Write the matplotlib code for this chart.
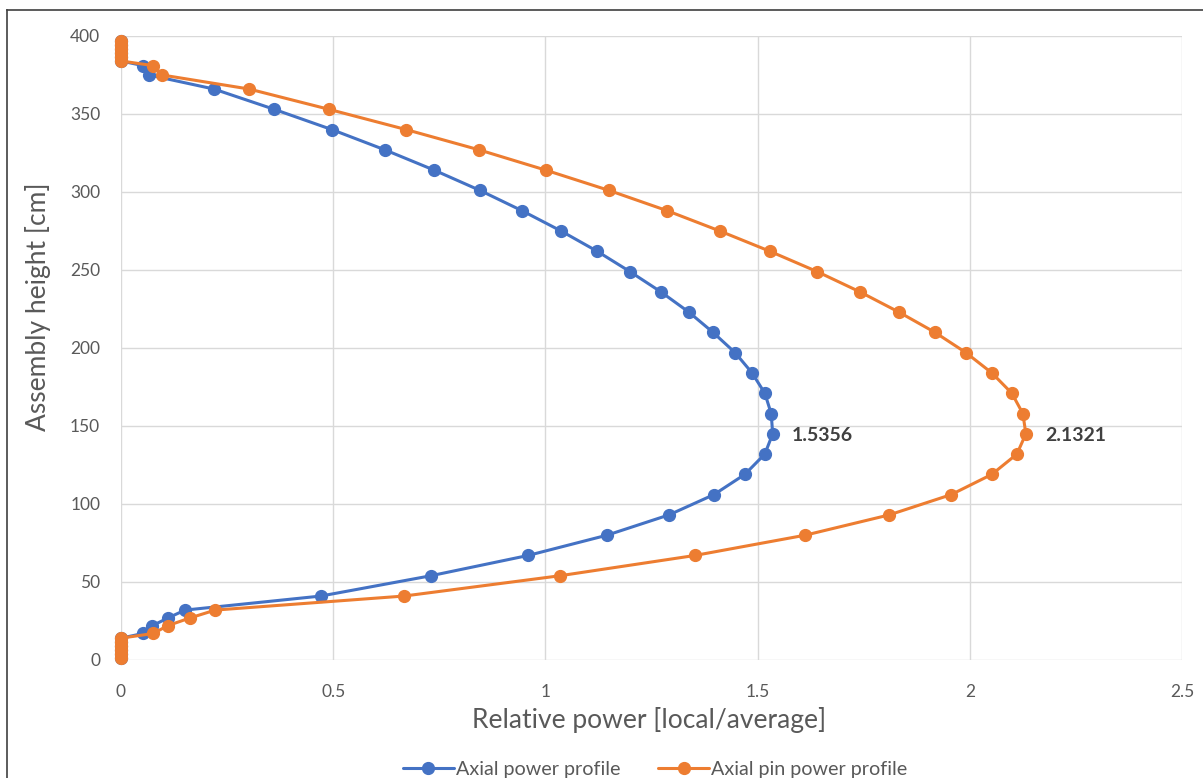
import matplotlib
matplotlib.use("Agg")
import matplotlib.pyplot as plt
from matplotlib.lines import Line2D

plt.rcParams["font.family"] = ["Lato", "DejaVu Sans"]

AZUL = "#4472C4"
NARANJA = "#ED7D31"
GRIS = "#595959"

# alturas [cm] de los puntos (zonas sin potencia abajo y arriba)
altura_abajo = [1.5, 4, 6.5, 9, 11.5, 14]
altura = [17, 22, 27, 32, 41, 54, 67, 80, 93, 106, 119, 132, 145, 158, 171, 184,
          197, 210, 223, 236, 249, 262, 275, 288, 301, 314, 327, 340, 353, 366, 375, 381]
altura_arriba = [384, 386.5, 389, 391.5, 394, 396.5]

perfil_axial = [0.052, 0.074, 0.111, 0.151, 0.471, 0.730, 0.959, 1.145, 1.291, 1.397,
                1.470, 1.517, 1.5356, 1.532, 1.517, 1.487, 1.447, 1.395, 1.338, 1.272,
                1.199, 1.122, 1.037, 0.945, 0.846, 0.738, 0.622, 0.497, 0.361, 0.219,
                0.066, 0.052]
perfil_pin = [0.076, 0.110, 0.163, 0.222, 0.667, 1.034, 1.352, 1.612, 1.810, 1.956,
              2.052, 2.111, 2.1321, 2.125, 2.099, 2.052, 1.991, 1.918, 1.833, 1.741,
              1.640, 1.529, 1.411, 1.287, 1.150, 1.001, 0.844, 0.672, 0.490, 0.302,
              0.097, 0.076]

series = [("Axial power profile", perfil_axial, AZUL),
          ("Axial pin power profile", perfil_pin, NARANJA)]

fig = plt.figure(figsize=(12.03, 7.78), dpi=100)
ax = fig.add_axes([121 / 1203, 1 - 660 / 778, 1061 / 1203, 624 / 778])

z = altura_abajo + altura + altura_arriba
for nombre, vals, col in series:
    x = [0.0] * len(altura_abajo) + vals + [0.0] * len(altura_arriba)
    ax.plot(x, z, color=col, lw=2.2, marker="o", ms=8.5, label=nombre,
            solid_capstyle="round", clip_on=False)
    i = vals.index(max(vals))
    ax.annotate(f"{max(vals):.4f}", xy=(vals[i], altura[i]), xytext=(14, -1),
                textcoords="offset points", va="center", ha="left",
                fontsize=14, fontweight="bold", color="#404040")

ax.set_xlim(0, 2.5)
ax.set_ylim(0, 400)
ax.set_xticks([0, 0.5, 1, 1.5, 2, 2.5])
ax.set_xticklabels(["0", "0.5", "1", "1.5", "2", "2.5"])
ax.set_yticks(range(0, 401, 50))
ax.grid(True, color="#D9D9D9", lw=1)
ax.set_axisbelow(True)
for s in ax.spines.values():
    s.set_visible(False)
ax.tick_params(length=0, labelsize=12.5, labelcolor=GRIS)
ax.tick_params(axis="x", pad=17)
ax.tick_params(axis="y", pad=15)

fig.text(649 / 1203, 1 - 720 / 778, "Relative power [local/average]",
         ha="center", va="center", fontsize=19, color=GRIS)
fig.text(38 / 1203, 1 - 307 / 778, "Assembly height [cm]", rotation=90,
         ha="center", va="center", fontsize=19, color=GRIS)

fig.legend(loc="center", bbox_to_anchor=(655 / 1203, 1 - 769 / 778), ncol=2,
           frameon=False, fontsize=14.2, handlelength=2.6, columnspacing=1.9,
           handletextpad=0.1, labelcolor=GRIS)

# marco exterior (recortado)
fig.add_artist(Line2D([7 / 1203, 7 / 1203], [0, 1 - 10 / 778], color="#404040", lw=1.2))
fig.add_artist(Line2D([7 / 1203, 1], [1 - 10 / 778, 1 - 10 / 778], color="#404040", lw=1.2))

fig.savefig("out.png", dpi=100)
